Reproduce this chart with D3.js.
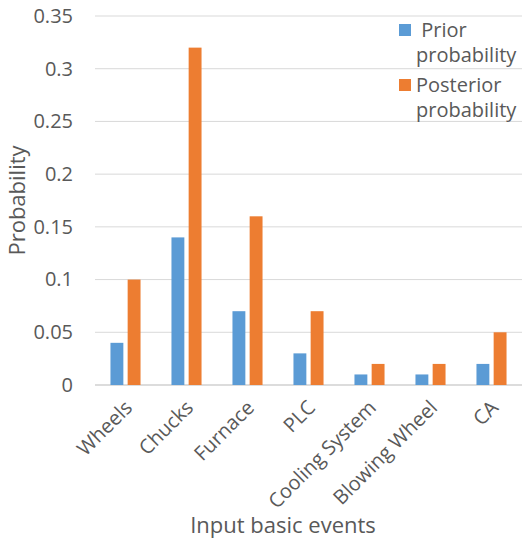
<!DOCTYPE html>
<html>
<head>
<meta charset="utf-8">
<script src="https://cdn.jsdelivr.net/npm/d3@7"></script>
<style>
  body { margin: 0; background: #fff; }
  text { font-family: "Open Sans", sans-serif; fill: #595959; }
</style>
</head>
<body>
<svg id="chart" width="523" height="540"></svg>
<script>
// chart data
var categories = ['Wheels', 'Chucks', 'Furnace', 'PLC', 'Cooling System', 'Blowing Wheel', 'CA'];
var prior = [0.04, 0.14, 0.07, 0.03, 0.01, 0.01, 0.02];
var posterior = [0.1, 0.32, 0.16, 0.07, 0.02, 0.02, 0.05];
var yTicks = [0, 0.05, 0.1, 0.15, 0.2, 0.25, 0.3, 0.35];
var seriesNames = [' Prior probability', 'Posterior probability'];
var colors = ['#5B9BD5', '#ED7D31'];

var svg = d3.select('#chart');
var plotLeft = 95, plotRight = 522, plotTop = 16, plotBottom = 385;

var x = d3.scaleBand().domain(categories).range([plotLeft, plotRight]);
var xs = d3.scaleBand().domain([0, 1]).range([0, x.bandwidth()]).paddingInner(0.25).paddingOuter(0.9);
var y = d3.scaleLinear().domain([0, 0.35]).range([plotBottom, plotTop]);

// gridlines
svg.append('g').selectAll('line')
  .data(yTicks)
  .enter().append('line')
    .attr('x1', plotLeft).attr('x2', plotRight)
    .attr('y1', function(d){ return y(d); })
    .attr('y2', function(d){ return y(d); })
    .attr('stroke', function(d){ return d === 0 ? '#d0d0d0' : '#d9d9d9'; })
    .attr('stroke-width', function(d){ return d === 0 ? 1.5 : 1; });

// y axis labels
var yAxis = d3.axisLeft(y).tickValues(yTicks).tickSize(0).tickPadding(0)
  .tickFormat(function(d){ return d === 0 ? '0' : String(+d.toFixed(2)); });
var gy = svg.append('g').attr('transform', 'translate(73,0)').call(yAxis);
gy.select('.domain').remove();
gy.selectAll('text').style('font-size', '20px').attr('fill', '#595959');

// bars
var series = [prior, posterior];
series.forEach(function(vals, si){
  svg.append('g').selectAll('rect')
    .data(vals)
    .enter().append('rect')
      .attr('x', function(d, i){ return x(categories[i]) + xs(si); })
      .attr('width', xs.bandwidth())
      .attr('y', function(d){ return y(d); })
      .attr('height', function(d){ return y(0) - y(d); })
      .attr('fill', colors[si]);
});

// x axis labels
var xAxis = d3.axisBottom(x).tickSize(0).tickPadding(0);
var gx = svg.append('g').attr('transform', 'translate(0,' + plotBottom + ')').call(xAxis);
gx.select('.domain').remove();
gx.selectAll('text')
  .style('font-size', '20px')
  .attr('fill', '#595959')
  .attr('text-anchor', 'end')
  .attr('dy', '0.35em')
  .attr('transform', 'translate(3,19) rotate(-45)');

// axis titles
svg.append('text')
  .attr('transform', 'translate(25,' + ((plotTop + plotBottom) / 2) + ') rotate(-90)')
  .attr('text-anchor', 'middle')
  .style('font-size', '22px')
  .text('Probability');

svg.append('text')
  .attr('x', 283).attr('y', 533)
  .attr('text-anchor', 'middle')
  .style('font-size', '22px')
  .text('Input basic events');

// legend
var legend = svg.append('g');
var legendY = [24, 79];
seriesNames.forEach(function(name, i){
  legend.append('rect')
    .attr('x', 399).attr('y', legendY[i])
    .attr('width', 12).attr('height', 12)
    .attr('fill', colors[i]);
  var words = name.split(' probability');
  var t = legend.append('text')
    .attr('x', 416).attr('y', legendY[i] + 13)
    .style('font-size', '20px')
    .attr('xml:space', 'preserve');
  t.append('tspan').attr('x', 416).text(words[0]);
  t.append('tspan').attr('x', 416).attr('dy', 25).text('probability');
});
</script>
</body>
</html>
